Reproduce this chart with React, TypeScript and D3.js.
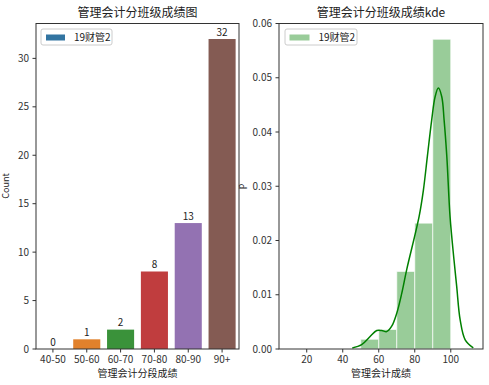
import React from 'react';
import * as d3 from 'd3';

const bins = ['40-50', '50-60', '60-70', '70-80', '80-90', '90+'];
const counts = [0, 1, 2, 8, 13, 32];
const barColors = ['#3274a1', '#e1812c', '#3a923a', '#c03d3e', '#9372b2', '#845b53'];

const histEdges = [50, 60, 70, 80, 90, 100];
const histDensity = [0.0018, 0.0036, 0.0143, 0.0232, 0.0571];

const kdeX = [45.3, 50.5, 55.2, 58.9, 61.7, 64.4, 67.2, 70.0, 72.8, 75.5, 82.4, 84.8, 87.0, 89.4, 91.3, 93.1, 95.0, 96.3, 97.8, 99.6, 101.8, 103.3, 105.2, 108.0, 112.5];
const kdeY = [0.0002, 0.0008, 0.0023, 0.0034, 0.0034, 0.0032, 0.0042, 0.0066, 0.0103, 0.0146, 0.0244, 0.0293, 0.0355, 0.0422, 0.0465, 0.0481, 0.0465, 0.0422, 0.0355, 0.0244, 0.0164, 0.0115, 0.0054, 0.0017, 0.0002];

const leftTicks = [0, 5, 10, 15, 20, 25, 30];
const rightXTicks = [20, 40, 60, 80, 100];
const rightYTicks = [0, 0.01, 0.02, 0.03, 0.04, 0.05, 0.06];

const legendLabel = '19财管2';
const font = '"Noto Sans CJK SC", "DejaVu Sans", sans-serif';

const App = () => {
  const ref = React.useRef<SVGSVGElement>(null);

  React.useEffect(() => {
    const svg = d3.select(ref.current);
    svg.selectAll('*').remove();
    svg.style('font-family', font);

    const top = 23.5, bottom = 349;
    const ink = '#333';

    // ---- left chart: bar counts
    const x1 = d3.scaleBand().domain(bins).range([36, 239]).paddingInner(0.2).paddingOuter(0.1);
    const y1 = d3.scaleLinear().domain([0, 33.6]).range([bottom, top]);
    const g1 = svg.append('g');

    g1.selectAll('rect.bar')
      .data(counts)
      .join('rect')
      .attr('x', (d, i) => x1(bins[i]))
      .attr('y', d => y1(d))
      .attr('width', x1.bandwidth())
      .attr('height', d => y1(0) - y1(d))
      .attr('fill', (d, i) => barColors[i]);

    g1.selectAll('text.val')
      .data(counts)
      .join('text')
      .attr('x', (d, i) => x1(bins[i]) + x1.bandwidth() / 2)
      .attr('y', d => y1(d) - 3.5)
      .attr('text-anchor', 'middle')
      .attr('font-size', 10)
      .attr('fill', '#222')
      .text(d => d);

    g1.append('rect')
      .attr('x', 36).attr('y', top).attr('width', 239 - 36).attr('height', bottom - top)
      .attr('fill', 'none').attr('stroke', ink).attr('stroke-width', 1);

    // y ticks
    leftTicks.forEach(t => {
      const y = y1(t);
      g1.append('line').attr('x1', 32.5).attr('x2', 36).attr('y1', y).attr('y2', y).attr('stroke', ink);
      g1.append('text').attr('x', 29).attr('y', y + 3.5).attr('text-anchor', 'end')
        .attr('font-size', 10).attr('fill', '#333').text(t);
    });
    bins.forEach(b => {
      const x = x1(b) + x1.bandwidth() / 2;
      g1.append('line').attr('x1', x).attr('x2', x).attr('y1', bottom).attr('y2', bottom + 3.5).attr('stroke', ink);
      g1.append('text').attr('x', x).attr('y', bottom + 14).attr('text-anchor', 'middle')
        .attr('font-size', 10).attr('fill', '#333').text(b);
    });
    g1.append('text').attr('x', 137.5).attr('y', 377).attr('text-anchor', 'middle')
      .attr('font-size', 10).attr('fill', '#222').text('管理会计分段成绩');
    g1.append('text').attr('transform', 'translate(9,186) rotate(-90)').attr('text-anchor', 'middle')
      .attr('font-size', 9).attr('fill', '#222').text('Count');
    g1.append('text').attr('x', 137.5).attr('y', 16.5).attr('text-anchor', 'middle')
      .attr('font-size', 12).attr('fill', '#222').text('管理会计分班级成绩图');

    // legend
    g1.append('rect').attr('x', 41).attr('y', 29).attr('width', 71).attr('height', 16).attr('rx', 2)
      .attr('fill', 'white').attr('stroke', '#ccc');
    g1.append('rect').attr('x', 46).attr('y', 34.5).attr('width', 19).attr('height', 6).attr('fill', barColors[0]);
    g1.append('text').attr('x', 74).attr('y', 40.5).attr('font-size', 10).attr('fill', '#222').text(legendLabel);

    // ---- right chart: histogram + kde
    const x2 = d3.scaleLinear().domain([4.6, 117.9]).range([279, 483]);
    const y2 = d3.scaleLinear().domain([0, 0.06]).range([bottom, top]);
    const g2 = svg.append('g');

    g2.selectAll('rect.hist')
      .data(histDensity)
      .join('rect')
      .attr('x', (d, i) => x2(histEdges[i]))
      .attr('y', d => y2(d))
      .attr('width', (d, i) => x2(histEdges[i + 1]) - x2(histEdges[i]))
      .attr('height', d => y2(0) - y2(d))
      .attr('fill', 'green').attr('fill-opacity', 0.4)
      .attr('stroke', 'white').attr('stroke-opacity', 0.7).attr('stroke-width', 1);

    const line = d3.line<number>()
      .x((d, i) => x2(kdeX[i]))
      .y(d => y2(d))
      .curve(d3.curveCatmullRom);
    g2.append('path').attr('d', line(kdeY)).attr('fill', 'none')
      .attr('stroke', 'green').attr('stroke-width', 1.5);

    g2.append('rect')
      .attr('x', 279).attr('y', top).attr('width', 483 - 279).attr('height', bottom - top)
      .attr('fill', 'none').attr('stroke', ink).attr('stroke-width', 1);

    rightYTicks.forEach(t => {
      const y = y2(t);
      g2.append('line').attr('x1', 275.5).attr('x2', 279).attr('y1', y).attr('y2', y).attr('stroke', ink);
      g2.append('text').attr('x', 272).attr('y', y + 3.5).attr('text-anchor', 'end')
        .attr('font-size', 10).attr('fill', '#333').text(d3.format('.2f')(t));
    });
    rightXTicks.forEach(t => {
      const x = x2(t);
      g2.append('line').attr('x1', x).attr('x2', x).attr('y1', bottom).attr('y2', bottom + 3.5).attr('stroke', ink);
      g2.append('text').attr('x', x).attr('y', bottom + 14).attr('text-anchor', 'middle')
        .attr('font-size', 10).attr('fill', '#333').text(t);
    });
    g2.append('text').attr('x', 381).attr('y', 377).attr('text-anchor', 'middle')
      .attr('font-size', 10).attr('fill', '#222').text('管理会计成绩');
    g2.append('text').attr('transform', 'translate(244,186.5) rotate(-90)').attr('text-anchor', 'middle')
      .attr('font-size', 9).attr('fill', '#222').text('p');
    g2.append('text').attr('x', 381).attr('y', 16.5).attr('text-anchor', 'middle')
      .attr('font-size', 12).attr('fill', '#222').text('管理会计分班级成绩kde');

    g2.append('rect').attr('x', 285).attr('y', 29).attr('width', 72).attr('height', 16).attr('rx', 2)
      .attr('fill', 'white').attr('stroke', '#ccc');
    g2.append('rect').attr('x', 289.5).attr('y', 34.5).attr('width', 20).attr('height', 6)
      .attr('fill', 'green').attr('fill-opacity', 0.4);
    g2.append('text').attr('x', 318.5).attr('y', 40.5).attr('font-size', 10).attr('fill', '#222').text(legendLabel);
  }, []);

  return (
    <svg ref={ref} width={489} height={385}
      style={{ position: 'absolute', left: 0, top: 0, background: 'white' }} />
  );
};

export default App;
